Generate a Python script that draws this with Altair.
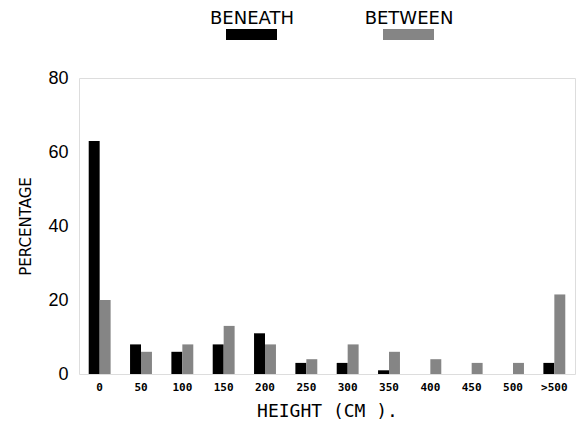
import altair as alt
import pandas as pd

categories = ["0", "50", "100", "150", "200", "250", "300", "350", "400", "450", "500", ">500"]
beneath = [63, 8, 6, 8, 11, 3, 3, 1, 0, 0, 0, 3]
between = [20, 6, 8, 13, 8, 4, 8, 6, 4, 3, 3, 21.5]
series = ["BENEATH", "BETWEEN"]
colors = ["#000000", "#858585"]

rows = []
for c, b, w in zip(categories, beneath, between):
    rows.append({"height": c, "group": series[0], "pct": b})
    rows.append({"height": c, "group": series[1], "pct": w})
df = pd.DataFrame(rows)

bars = alt.Chart(df).mark_bar().encode(
    x=alt.X("height:N", sort=categories,
            scale=alt.Scale(paddingInner=0.47, paddingOuter=0.235),
            axis=alt.Axis(title="HEIGHT (CM ).", labelAngle=0, ticks=False, domain=False,
                          labelFont="DejaVu Sans Mono", labelFontSize=11, labelFontWeight="bold",
                          labelColor="black", labelPadding=7,
                          titleFont="DejaVu Sans Mono", titleFontSize=18, titleFontWeight="normal",
                          titleColor="black", titlePadding=10)),
    xOffset=alt.XOffset("group:N", sort=series),
    y=alt.Y("pct:Q", scale=alt.Scale(domain=[0, 80], nice=False),
            axis=alt.Axis(title="PERCENTAGE", values=[0, 20, 40, 60, 80], ticks=False, domain=False,
                          grid=False, labelFont="Liberation Sans", labelFontSize=18,
                          labelColor="black", labelPadding=11,
                          titleFont="DejaVu Sans", titleFontSize=15, titleFontWeight="normal",
                          titleColor="black", titlePadding=14)),
    color=alt.Color("group:N", scale=alt.Scale(domain=series, range=colors), legend=None),
)

leg_df = pd.DataFrame({"label": series})

leg_text1 = alt.Chart(leg_df).transform_filter(alt.datum.label == series[0]).mark_text(
    font="DejaVu Sans", fontSize=18, color="black", baseline="alphabetic", align="center"
).encode(text="label:N", x=alt.value(173), y=alt.value(-54))
leg_text2 = alt.Chart(leg_df).transform_filter(alt.datum.label == series[1]).mark_text(
    font="DejaVu Sans", fontSize=18, color="black", baseline="alphabetic", align="center"
).encode(text="label:N", x=alt.value(330), y=alt.value(-54))
leg_rect1 = alt.Chart(leg_df).transform_filter(alt.datum.label == series[0]).mark_rect(
    color=colors[0]
).encode(x=alt.value(147), x2=alt.value(198), y=alt.value(-49), y2=alt.value(-38))
leg_rect2 = alt.Chart(leg_df).transform_filter(alt.datum.label == series[1]).mark_rect(
    color=colors[1]
).encode(x=alt.value(304), x2=alt.value(355), y=alt.value(-49), y2=alt.value(-38))

chart = alt.layer(bars, leg_text1, leg_text2, leg_rect1, leg_rect2).properties(
    width=496, height=296,
    padding={"left": 10, "top": 2, "right": 1, "bottom": 0},
).configure_view(stroke="black", strokeWidth=1.5).configure(background="white")

chart.save("out.html", embed_options={"renderer": "svg", "actions": False})
